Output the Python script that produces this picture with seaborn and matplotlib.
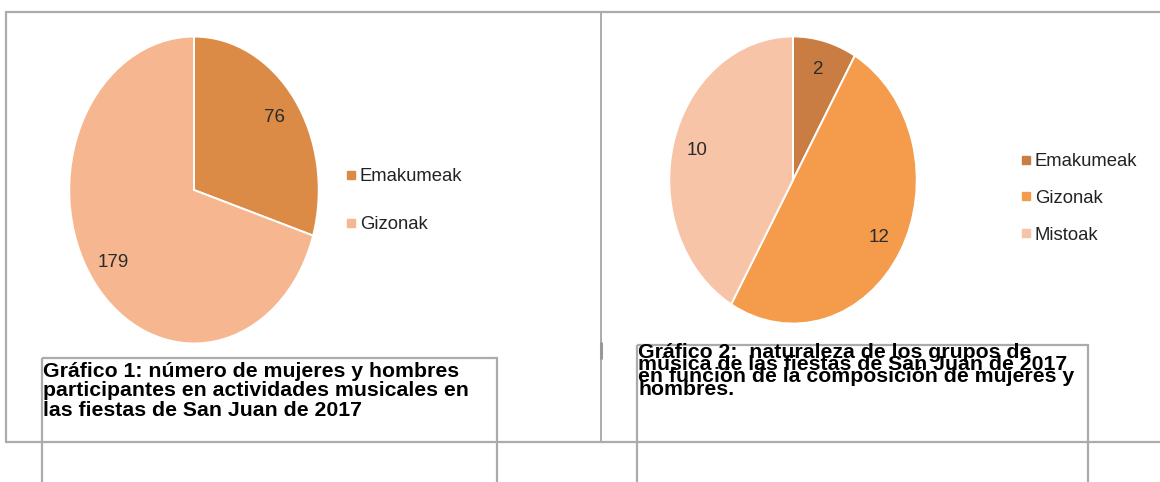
import matplotlib
matplotlib.use("Agg")
import matplotlib.pyplot as plt
import seaborn as sns
from matplotlib.patches import Rectangle
from matplotlib.lines import Line2D

sns.set_theme(style="white")
plt.rcParams['font.family'] = ['Liberation Sans', 'DejaVu Sans']

# data
labels1 = ["Emakumeak", "Gizonak"]
values1 = [76, 179]
colors1 = ["#DB8B45", "#F6B68F"]

labels2 = ["Emakumeak", "Gizonak", "Mistoak"]
values2 = [2, 12, 10]
colors2 = ["#C97D43", "#F59B4C", "#F7C4A8"]

caption1 = ["Gráfico 1: número de mujeres y hombres",
            "participantes en actividades musicales en",
            "las fiestas de San Juan de 2017"]
caption2 = ["Gráfico 2:  naturaleza de los grupos de",
            "música de las fiestas de San Juan de 2017",
            "en función de la composición de mujeres y",
            "hombres."]

W, H = 1160, 482
fig = plt.figure(figsize=(W / 100, H / 100), dpi=100)

# page layer in pixel coordinates
bg = fig.add_axes([0, 0, 1, 1])
bg.set_xlim(0, W)
bg.set_ylim(H, 0)
bg.axis("off")

grey = "#ABABAB"
bg.plot([6, W], [12, 12], color=grey, lw=1.6)
bg.plot([6, W], [442, 442], color=grey, lw=1.6)
bg.plot([6, 6], [12, 442], color=grey, lw=1.6)
bg.plot([600.5, 600.5], [12, 442], color=grey, lw=1.4)
bg.plot([600.5, 600.5], [343, 358], color="#999999", lw=2.2)

bg.add_patch(Rectangle((42, 358), 455, 140, fill=False, edgecolor=grey, lw=1.6))
bg.add_patch(Rectangle((637, 345), 451, 150, fill=False, edgecolor=grey, lw=1.6))


def px_axes(x0, y0, x1, y1):
    return fig.add_axes([x0 / W, 1 - y1 / H, (x1 - x0) / W, (y1 - y0) / H])


def draw_pie(ax, values, colors):
    ax.pie(values, colors=colors, startangle=90, counterclock=False,
           autopct=lambda p: f"{p * sum(values) / 100:.0f}", pctdistance=0.8,
           wedgeprops=dict(edgecolor="white", linewidth=1.4),
           textprops=dict(fontsize=13.5, color="#2B2B2B"))
    ax.set_aspect("auto")
    ax.set_xlim(-1.01, 1.01)
    ax.set_ylim(-1.01, 1.01)
    ax.axis("off")


ax1 = px_axes(68, 35, 320, 345)
draw_pie(ax1, values1, colors1)

ax2 = px_axes(668, 35, 918, 325)
draw_pie(ax2, values2, colors2)


def add_legend(labels, colors, x, y, spacing):
    handles = [Line2D([], [], marker="s", ls="", markersize=6, color=c) for c in colors]
    fig.legend(handles, labels, loc="upper left", bbox_to_anchor=(x / W, 1 - y / H),
               frameon=False, fontsize=13.3, handlelength=0.5, handletextpad=0.25,
               labelspacing=spacing, borderpad=0, borderaxespad=0,
               labelcolor="#222222")


add_legend(labels1, colors1, 346, 168, 1.68)
add_legend(labels2, colors2, 1021, 153, 1.07)

for i, line in enumerate(caption1):
    bg.text(43, 377 + i * 19.5, line, fontsize=15.3, fontweight="bold",
            va="baseline", ha="left", color="black")

for i, line in enumerate(caption2):
    bg.text(638, 358 + i * 12.2, line, fontsize=15.3, fontweight="bold",
            va="baseline", ha="left", color="black")

fig.savefig("out.png", dpi=100)
